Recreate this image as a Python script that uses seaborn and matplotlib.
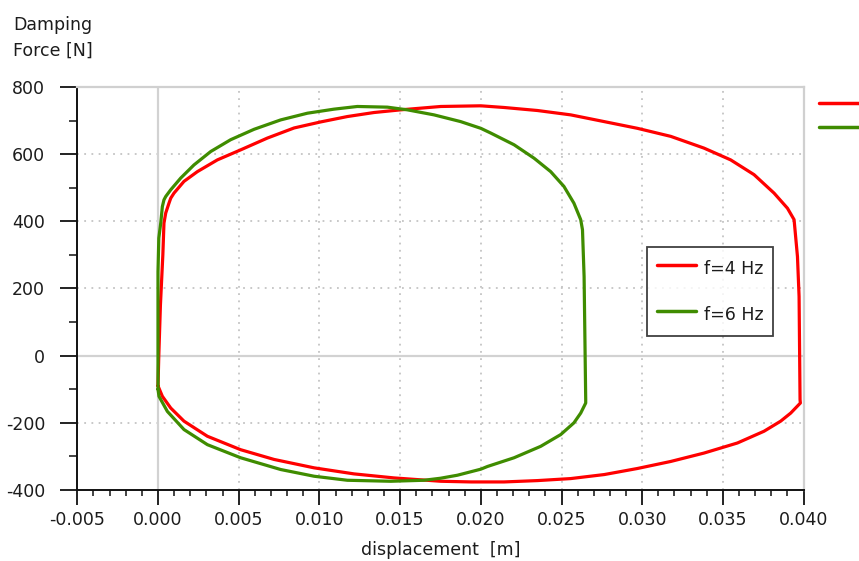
import numpy as np
import pandas as pd
import matplotlib
matplotlib.use("Agg")
import matplotlib.pyplot as plt
from matplotlib.ticker import MultipleLocator, FormatStrFormatter
from matplotlib.lines import Line2D
import seaborn as sns

# Hysteresis loop, f = 4 Hz (displacement [m], damping force [N])
disp_4hz = [0.0, 0.00005, 0.00015, 0.00030, 0.00037, 0.00048, 0.00068, 0.00079,
            0.00099, 0.00161, 0.00244, 0.00368, 0.00513, 0.00678, 0.00843, 0.01008,
            0.01173, 0.01338, 0.01504, 0.01752, 0.0200, 0.02144, 0.02351, 0.02557,
            0.02764, 0.0297, 0.03177, 0.03383, 0.03548, 0.03693, 0.03817, 0.0390,
            0.03941, 0.03962, 0.03972, 0.03978, 0.03980, 0.0392, 0.03858, 0.03755,
            0.0359, 0.03383, 0.03177, 0.0297, 0.02765, 0.02557, 0.02351, 0.02144,
            0.0194, 0.01752, 0.01462, 0.01214, 0.00967, 0.00719, 0.00512, 0.00306,
            0.00161, 0.00079, 0.00027, 0.0]
force_4hz = [-90, 0, 150, 300, 395, 425, 454, 469,
             484, 519, 548, 583, 613, 648, 678, 696,
             712, 724, 732, 742, 744, 739, 730, 717,
             697, 677, 653, 618, 583, 539, 484, 439,
             405, 295, 176, -131, -141, -171, -195, -225,
             -260, -290, -315, -336, -354, -366, -372, -376,
             -376, -374, -364, -352, -334, -309, -280, -240,
             -195, -156, -121, -90]

# Hysteresis loop, f = 6 Hz
disp_6hz = [0.0, 0.0, 0.0, 0.00005, 0.00017, 0.00027, 0.00037, 0.00048, 0.00079,
            0.00141, 0.00223, 0.00327, 0.0045, 0.00595, 0.0076, 0.00926, 0.0109,
            0.01235, 0.01421, 0.01545, 0.0171, 0.01875, 0.0200, 0.02061, 0.02206,
            0.0233, 0.02433, 0.02515, 0.02577, 0.02619, 0.0263, 0.0264, 0.0265,
            0.0265, 0.02619, 0.02577, 0.02495, 0.02371, 0.02206, 0.02041, 0.0200,
            0.01855, 0.0175, 0.01648, 0.01442, 0.01173, 0.00967, 0.0076, 0.00512,
            0.00306, 0.00161, 0.00058, 0.00006, 0.0]
force_6hz = [-100, 100, 250, 350, 395, 444, 464, 474, 494,
             529, 568, 608, 643, 674, 702, 722, 734,
             742, 740, 732, 717, 697, 677, 663, 628,
             588, 548, 504, 454, 405, 375, 236, -131,
             -141, -171, -200, -235, -270, -304, -330, -338,
             -356, -365, -371, -374, -371, -359, -339, -304,
             -265, -220, -166, -121, -100]

series_labels = ["f=4 Hz", "f=6 Hz"]
series_colors = ["#ff0000", "#3f8c00"]

x_ticks = [-0.005, 0.000, 0.005, 0.010, 0.015, 0.020, 0.025, 0.030, 0.035, 0.040]
y_ticks = [-400, -200, 0, 200, 400, 600, 800]

FS = 12.5
TXT = "#1c1c1c"

sns.set_style("white")
plt.rcParams["font.family"] = ["DejaVu Sans"]
plt.rcParams["axes.unicode_minus"] = False

fig = plt.figure(figsize=(8.59, 5.61), dpi=100)
ax = fig.add_axes([77.3 / 859, 1 - 490 / 561, (803.6 - 77.3) / 859, (490 - 87) / 561])

loops = pd.concat([
    pd.DataFrame({"disp": disp_4hz, "force": force_4hz, "series": series_labels[0]}),
    pd.DataFrame({"disp": disp_6hz, "force": force_6hz, "series": series_labels[1]}),
])

# reference lines and dotted grid drawn first
grid_kw = dict(color="#c4c4c4", lw=1.3, ls=(0, (1, 3)), zorder=0)
for xv in x_ticks:
    if xv not in (0.0, -0.005, 0.040):
        ax.axvline(xv, **grid_kw)
for yv in y_ticks:
    if yv not in (0, -400, 800):
        ax.axhline(yv, **grid_kw)
ax.axhline(0, color="#d2d2d2", lw=1.6, zorder=0)
ax.axvline(0, color="#d2d2d2", lw=1.6, zorder=0)

for lab, col in zip(series_labels, series_colors):
    sub = loops[loops["series"] == lab]
    sns.lineplot(data=sub, x="disp", y="force", sort=False, estimator=None,
                 color=col, lw=2.3, ax=ax, legend=False, zorder=3,
                 solid_joinstyle="round")

ax.set_xlim(-0.005, 0.040)
ax.set_ylim(-400, 800)
ax.set_xticks(x_ticks)
ax.set_yticks(y_ticks)
ax.xaxis.set_major_formatter(FormatStrFormatter("%.3f"))
ax.xaxis.set_minor_locator(MultipleLocator(0.001))
ax.yaxis.set_minor_locator(MultipleLocator(100))
ax.tick_params(axis="x", which="major", direction="out", length=10.8, width=1.3,
               color="#111111", labelsize=FS, labelcolor=TXT, pad=4)
ax.tick_params(axis="y", which="major", direction="out", length=12.6, width=1.3,
               color="#111111", labelsize=FS, labelcolor=TXT, pad=10.5)
ax.tick_params(axis="x", which="minor", direction="out", length=4.5, width=1.1,
               color="#111111", bottom=True)
ax.tick_params(axis="y", which="minor", direction="out", length=6, width=1.1,
               color="#111111", left=True)
ax.tick_params(axis="x", which="major", bottom=True)
ax.tick_params(axis="y", which="major", left=True)

for side in ("left", "bottom"):
    ax.spines[side].set_color("#111111")
    ax.spines[side].set_linewidth(1.4)
for side in ("top", "right"):
    ax.spines[side].set_color("#d0d0d0")
    ax.spines[side].set_linewidth(1.6)

ax.set_xlabel("displacement  [m]", fontsize=FS, color=TXT, labelpad=9)
ax.set_ylabel("Damping\nForce [N]", fontsize=FS, color=TXT, rotation=0,
              ha="left", va="baseline", linespacing=1.56)
ax.yaxis.set_label_coords((13 - 77.3) / 726.3, (490 - 47.5) / 403)

handles = [Line2D([], [], color=c, lw=2.5) for c in series_colors]
leg = ax.legend(handles, series_labels, loc="upper left",
                bbox_to_anchor=((647 - 77.3) / 726.3, (490 - 246.5) / 403),
                frameon=True, fancybox=False, edgecolor="#111111", fontsize=FS,
                handlelength=2.3, handleheight=1.85, handletextpad=0.42,
                borderpad=0.55, labelspacing=1.18, borderaxespad=0)
leg.get_frame().set_linewidth(1.3)
for t in leg.get_texts():
    t.set_color(TXT)

# unlabeled key swatches at the top right, outside the plot area
fig.legend([Line2D([], [], color=c, lw=2.5) for c in series_colors], ["", ""],
           loc="upper left", bbox_to_anchor=(819 / 859, 1 - 96.3 / 561),
           frameon=False, handlelength=4, handleheight=1.4, handletextpad=0,
           borderpad=0, borderaxespad=0, labelspacing=0.62, fontsize=10)

fig.savefig("out.png", dpi=100)
